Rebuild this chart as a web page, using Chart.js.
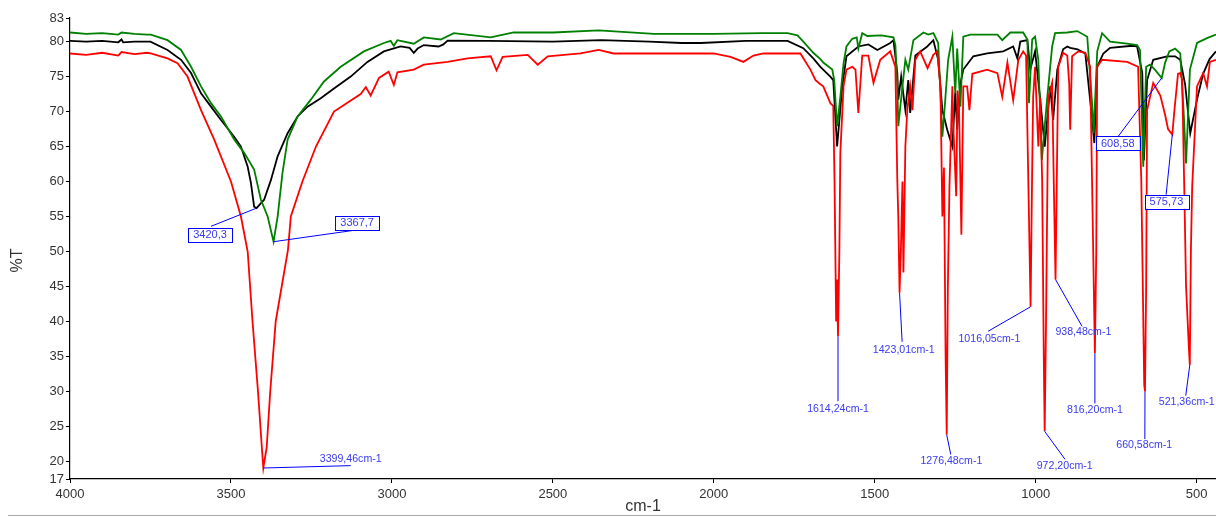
<!DOCTYPE html>
<html>
<head>
<meta charset="utf-8">
<script src="https://cdn.jsdelivr.net/npm/chart.js@4/dist/chart.umd.min.js"></script>
<style>
  html, body { margin: 0; padding: 0; background: #fff; }
  #wrap { width: 1216px; height: 517px; position: relative; }
</style>
</head>
<body>
<div id="wrap"><canvas id="irChart"></canvas></div>
<script>
// axis range and ticks (the end labels 17 / 83 sit on the axis ends)
const wnMin = 440, wnMax = 4000;
const tMin = 17.49, tMax = 83.37;
const wnTicks = [4000, 3500, 3000, 2500, 2000, 1500, 1000, 500];
const tTicks = [20, 25, 30, 35, 40, 45, 50, 55, 60, 65, 70, 75, 80];

// spectra: [wavenumber cm-1, %T]
const blackTrace = [
  [4000,80.1],[3950,80.0],[3900,80.1],[3850,79.9],[3840,80.3],[3835,79.9],[3800,80.0],[3750,80.0],
  [3697,78.8],[3655,77.4],[3624,75.5],[3593,72.6],[3562,70.7],[3531,68.8],[3490,66.4],[3469,65.0],
  [3448,62.1],[3438,59.8],[3428,56.4],[3420.3,56.2],[3413,56.6],[3397,57.4],[3376,60.2],[3355,63.6],
  [3324,66.9],[3293,69.3],[3262,70.7],[3221,71.9],[3180,73.3],[3128,75.0],[3076,77.1],[3025,78.6],
  [2973,79.3],[2945,79.1],[2932,78.4],[2920,79.0],[2901,79.5],[2855,79.3],[2840,79.6],[2827,80.15],
  [2700,80.1],[2500,80.0],[2350,80.2],[2200,80.0],[2100,79.8],[2040,79.8],[1900,80.1],[1771,80.1],
  [1722,79.05],[1691,77.6],[1669,76.4],[1638,75.0],[1629,74.5],[1617,65.0],[1601,73.6],[1588,77.9],
  [1551,79.3],[1520,79.6],[1492,78.8],[1452,79.8],[1442,80.2],[1430,75.5],[1427,71.7],[1418,75.0],
  [1405,70.2],[1396,74.5],[1390,69.8],[1374,78.0],[1337,79.3],[1318,80.2],[1303,77.4],[1290,70.2],
  [1275,67.4],[1259,65.0],[1250,72.7],[1244,67.4],[1234,74.0],[1225,76.0],[1194,77.9],[1151,78.3],
  [1101,78.6],[1070,79.3],[1057,77.6],[1048,80.0],[1026,80.2],[1017,76.0],[1002,78.6],[986,71.7],
  [972,65.0],[955,73.6],[946,68.8],[933,76.0],[915,78.9],[902,79.3],[893,79.1],[870,78.9],
  [846,78.3],[825,69.0],[818,65.5],[809,76.4],[790,78.3],[769,79.1],[700,79.4],[685,79.3],
  [669,75.5],[664,63.0],[654,74.5],[635,77.4],[592,77.9],[567,77.9],[551,77.4],[536,73.9],
  [520,66.9],[499,71.7],[480,75.4],[460,77.5],[440,78.6]
];

const greenTrace = [
  [4000,81.3],[3950,81.1],[3900,81.2],[3850,81.0],[3840,81.3],[3800,81.1],[3760,81.0],[3749,81.0],
  [3697,80.2],[3655,78.8],[3624,76.4],[3593,73.6],[3562,71.2],[3531,69.3],[3490,66.0],[3459,64.1],
  [3428,61.7],[3407,57.4],[3386,55.0],[3367.7,51.4],[3355,55.0],[3340,61.2],[3324,66.0],[3293,69.3],
  [3252,71.7],[3211,74.3],[3159,76.4],[3087,78.6],[3025,79.8],[3004,80.1],[2994,79.4],[2983,80.2],
  [2973,80.1],[2932,79.7],[2901,80.6],[2848,80.3],[2808,81.2],[2693,80.6],[2622,81.3],[2500,81.3],
  [2358,81.6],[2186,81.1],[2001,81.1],[1850,81.2],[1771,81.2],[1740,80.9],[1722,80.0],[1691,78.4],
  [1669,77.5],[1660,77.0],[1632,76.0],[1626,74.5],[1617,67.9],[1607,72.1],[1597,76.9],[1588,79.3],
  [1570,80.4],[1556,80.6],[1551,79.0],[1539,81.2],[1523,80.8],[1480,80.9],[1442,80.6],[1436,79.5],
  [1430,73.6],[1427,67.9],[1414,73.6],[1405,77.4],[1396,76.0],[1380,80.2],[1349,81.3],[1334,81.0],
  [1318,81.2],[1303,79.8],[1290,66.4],[1281,71.7],[1272,77.4],[1259,80.7],[1250,72.6],[1244,79.0],
  [1234,70.7],[1225,80.7],[1203,81.0],[1119,81.0],[1104,80.2],[1079,81.3],[1039,81.3],[1026,80.3],
  [1021,71.2],[1011,80.3],[1002,80.7],[992,77.4],[981,63.1],[964,72.1],[949,79.3],[940,81.2],
  [902,81.3],[871,81.5],[840,80.7],[825,71.2],[820,66.9],[809,78.6],[794,81.2],[769,80.0],
  [716,79.7],[685,79.5],[676,78.8],[666,62.1],[657,76.4],[645,76.7],[630,76.0],[608.58,74.8],
  [598,77.0],[585,78.6],[567,79.0],[551,78.3],[540,69.5],[533,62.6],[521,76.0],[499,79.8],
  [468,80.5],[440,81.0]
];

const redTrace = [
  [4000,78.3],[3950,78.1],[3900,78.4],[3850,78.0],[3840,78.5],[3800,78.2],[3760,78.4],[3749,78.3],
  [3697,77.6],[3666,76.9],[3635,75.0],[3593,70.2],[3552,66.0],[3500,60.0],[3469,55.0],[3448,50.0],
  [3433,40.0],[3416,30.0],[3404,22.0],[3399.46,19.06],[3389,22.0],[3378,30.0],[3361,40.0],[3323,50.2],
  [3314,55.0],[3278,60.0],[3236,65.0],[3180,70.0],[3097,72.5],[3081,73.5],[3066,72.3],[3040,74.8],
  [3010,75.7],[2994,73.8],[2983,75.6],[2932,76.0],[2901,76.7],[2827,77.1],[2765,77.6],[2693,77.9],
  [2675,75.9],[2656,77.8],[2578,78.1],[2547,76.7],[2516,77.9],[2414,78.3],[2358,78.8],[2311,78.3],
  [2206,78.3],[2001,78.3],[1948,77.8],[1908,77.1],[1877,78.0],[1846,78.3],[1731,78.3],[1700,76.0],
  [1684,74.5],[1669,73.9],[1660,73.6],[1638,71.2],[1629,70.8],[1625,60.0],[1620,40.0],[1617,46.0],
  [1614.24,37.9],[1610,50.0],[1607,64.1],[1597,73.6],[1588,76.0],[1570,76.4],[1560,76.0],[1551,69.8],
  [1539,78.0],[1520,78.0],[1504,74.1],[1483,77.4],[1452,78.6],[1436,76.4],[1430,60.2],[1427,55.0],
  [1423.01,44.1],[1419,50.0],[1414,60.0],[1411,47.0],[1405,65.0],[1399,70.2],[1390,73.6],[1383,70.2],
  [1374,77.4],[1359,78.6],[1336,76.2],[1318,78.1],[1306,78.6],[1296,73.6],[1290,55.0],[1285,62.0],
  [1280,35.0],[1276.48,23.8],[1273,45.0],[1268,59.3],[1259,73.6],[1256,68.0],[1247,57.9],[1243,73.0],
  [1238,70.0],[1231,52.4],[1225,73.6],[1213,73.6],[1206,70.2],[1197,75.4],[1151,76.0],[1119,75.5],
  [1104,72.1],[1088,77.0],[1070,71.6],[1054,77.4],[1039,78.6],[1030,78.0],[1023,60.0],[1016.05,42.1],
  [1011,62.0],[1008,72.1],[1002,76.4],[992,65.0],[986,72.0],[980,60.0],[975,35.0],[972.2,24.3],
  [968,40.0],[961,72.0],[949,74.1],[944,60.0],[938.48,46.0],[933,66.0],[930,76.4],[915,78.4],
  [902,78.0],[896,74.0],[893,67.4],[887,77.9],[868,78.6],[846,78.4],[831,76.4],[825,60.0],
  [816.2,35.5],[812,50.0],[809,76.4],[794,77.4],[716,77.1],[682,76.4],[672,60.0],[663,31.0],
  [660.58,30.0],[657,45.0],[654,70.2],[635,74.1],[613,72.3],[598,69.5],[589,67.5],[575.73,66.7],
  [570,69.8],[558,75.4],[551,75.5],[545,74.5],[539,60.0],[533,45.0],[524,36.0],[521.36,33.8],
  [518,50.0],[514,59.3],[499,73.6],[480,75.5],[468,73.6],[459,77.1],[440,77.4]
];

// peak labels: anchor on the curve, end of leader line, label centre (all in data units)
const peakNotes = [
  { text: '3420,3', at: [3420.3, 56.2], tip: [3562, 53.6], label: [3565, 52.4], boxed: true },
  { text: '3367,7', at: [3367.7, 51.4], tip: [3122, 53.0], label: [3108, 54.1], boxed: true },
  { text: '3399,46cm-1', at: [3399.46, 19.06], tip: [3128, 19.4], label: [3128, 20.4] },
  { text: '1614,24cm-1', at: [1614.24, 37.9], tip: [1614.24, 28.6], label: [1614, 27.5] },
  { text: '1423,01cm-1', at: [1423.01, 44.1], tip: [1415, 37.1], label: [1410, 36.0] },
  { text: '1276,48cm-1', at: [1276.48, 23.8], tip: [1264, 21.0], label: [1262, 20.1] },
  { text: '1016,05cm-1', at: [1016.05, 42.1], tip: [1148, 38.6], label: [1144, 37.5] },
  { text: '938,48cm-1', at: [938.48, 46.0], tip: [856, 39.3], label: [852, 38.5] },
  { text: '972,20cm-1', at: [972.2, 24.3], tip: [909, 20.3], label: [910, 19.4] },
  { text: '816,20cm-1', at: [816.2, 35.5], tip: [816.2, 28.3], label: [816, 27.4] },
  { text: '660,58cm-1', at: [660.58, 30.0], tip: [661, 23.2], label: [663, 22.4] },
  { text: '521,36cm-1', at: [521.36, 33.8], tip: [534, 29.4], label: [531, 28.5] },
  { text: '608,58', at: [608.58, 74.8], tip: [743, 66.5], label: [745, 65.5], boxed: true },
  { text: '575,73', at: [575.73, 66.7], tip: [595, 58.1], label: [594, 57.1], boxed: true }
];

const toXY = arr => arr.map(p => ({ x: p[0], y: p[1] }));
const uiFont = '"Liberation Sans", Arial, sans-serif';

const peakNotesPlugin = {
  id: 'peakNotes',
  afterDatasetsDraw(chart) {
    const { ctx, scales: { x, y } } = chart;
    ctx.save();
    peakNotes.forEach(n => {
      const ax = x.getPixelForValue(n.at[0]), ay = y.getPixelForValue(n.at[1]);
      const tx = x.getPixelForValue(n.tip[0]), ty = y.getPixelForValue(n.tip[1]);
      const lx = x.getPixelForValue(n.label[0]), ly = y.getPixelForValue(n.label[1]);
      ctx.strokeStyle = '#0000ff';
      ctx.lineWidth = 1;
      ctx.beginPath();
      ctx.moveTo(ax, ay);
      ctx.lineTo(tx, ty);
      ctx.stroke();
      ctx.font = (n.boxed ? '11px ' : '10.6px ') + uiFont;
      ctx.textAlign = 'center';
      ctx.textBaseline = 'middle';
      if (n.boxed) {
        const w = ctx.measureText(n.text).width + 10;
        ctx.fillStyle = '#fff';
        ctx.fillRect(lx - w / 2, ly - 7, w, 14);
        ctx.strokeRect(Math.round(lx - w / 2) + 0.5, Math.round(ly - 7) + 0.5, Math.round(w), 14);
      }
      ctx.fillStyle = '#3a3af0';
      ctx.fillText(n.text, lx, ly + 0.5);
    });
    ctx.restore();
  },
  afterDraw(chart) {
    const { ctx, chartArea } = chart;
    ctx.save();
    // axis titles
    ctx.fillStyle = '#333';
    ctx.font = '16px ' + uiFont;
    ctx.textAlign = 'center';
    ctx.textBaseline = 'middle';
    ctx.fillText('cm-1', (chartArea.left + chartArea.right) / 2, 507);
    ctx.translate(18, (chartArea.top + chartArea.bottom) / 2 + 12);
    ctx.rotate(-Math.PI / 2);
    ctx.fillText('%T', 0, 0);
    ctx.setTransform(1, 0, 0, 1, 0, 0);
    // thin grey frame line at the bottom
    ctx.strokeStyle = '#a8a8a8';
    ctx.lineWidth = 1;
    ctx.beginPath();
    ctx.moveTo(8, 515.5);
    ctx.lineTo(chart.width, 515.5);
    ctx.stroke();
    ctx.restore();
  }
};

const tickFont = { family: uiFont, size: 13 };

new Chart(document.getElementById('irChart'), {
  type: 'line',
  data: {
    datasets: [
      { label: 'red', data: toXY(redTrace), borderColor: '#ff0000', borderWidth: 1.8 },
      { label: 'green', data: toXY(greenTrace), borderColor: '#008000', borderWidth: 1.8 },
      { label: 'black', data: toXY(blackTrace), borderColor: '#000000', borderWidth: 1.8 }
    ]
  },
  options: {
    responsive: true,
    maintainAspectRatio: false,
    animation: false,
    elements: { point: { radius: 0 }, line: { tension: 0 } },
    layout: { padding: { top: 18, right: 0, left: 0, bottom: 0 } },
    plugins: { legend: { display: false }, tooltip: { enabled: false } },
    scales: {
      x: {
        type: 'linear',
        reverse: true,
        min: wnMin,
        max: wnMax,
        afterBuildTicks: s => { s.ticks = wnTicks.map(v => ({ value: v })); },
        afterFit: s => { s.height = 38; },
        ticks: { font: tickFont, color: '#333', padding: 4, maxRotation: 0, callback: v => v },
        grid: { drawOnChartArea: false, tickLength: 4, color: '#000' },
        border: { color: '#000', width: 1.2 }
      },
      y: {
        min: tMin,
        max: tMax,
        afterBuildTicks: s => { s.ticks = [tMin, ...tTicks, tMax].map(v => ({ value: v })); },
        afterFit: s => { s.width = 70; },
        ticks: { font: tickFont, color: '#333', padding: 2, callback: v => Math.round(v) },
        grid: { drawOnChartArea: false, tickLength: 4, color: '#000' },
        border: { color: '#000', width: 1.2 }
      }
    }
  },
  plugins: [peakNotesPlugin]
});
</script>
</body>
</html>
